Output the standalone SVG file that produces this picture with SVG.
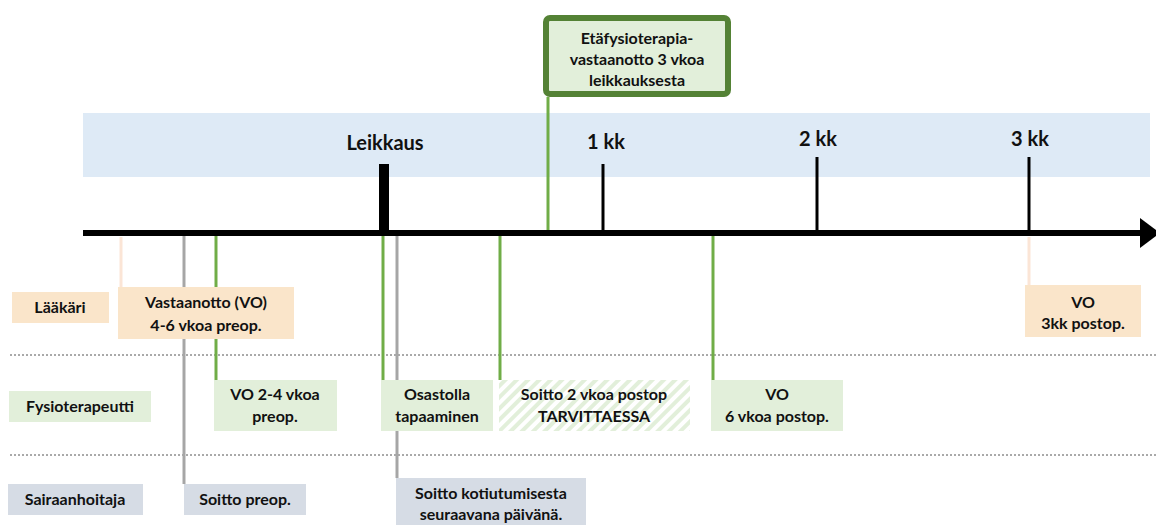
<svg xmlns="http://www.w3.org/2000/svg" width="1156" height="525" viewBox="0 0 1156 525">
<defs>
<style>
text{font-family:Lato,"Open Sans","Liberation Sans",sans-serif;font-weight:bold;fill:#111;text-anchor:middle}
.t{font-size:16px}
.big{font-size:20px}
.peach{fill:#fae5ca}
.green{fill:#e2efda}
.grey{fill:#d6dce5}
.lg{stroke:#70ad47;stroke-width:3}
.lgr{stroke:#a6a6a6;stroke-width:3}
.lp{stroke:#fbe5d6;stroke-width:3}
.tick{stroke:#000;stroke-width:3}
.dot{stroke:#555;stroke-width:1;stroke-dasharray:2 2}
</style>
<pattern id="hatch" width="8" height="8" patternUnits="userSpaceOnUse" patternTransform="rotate(-45)">
<rect width="8" height="8" fill="#ffffff"/>
<rect width="8" height="4" fill="#e2efda"/>
</pattern>
</defs>
<rect width="1156" height="525" fill="#fff"/>
<rect x="83" y="113" width="1067" height="64" fill="#deeaf6"/>
<line class="dot" x1="10" y1="355" x2="1156" y2="355"/>
<line class="dot" x1="10" y1="455" x2="1156" y2="455"/>
<g id="connectors">
<line class="lg" x1="548" y1="97" x2="548" y2="233"/>
<line class="lp" x1="121" y1="237" x2="121" y2="287"/>
<line class="lgr" x1="184" y1="236" x2="184" y2="484"/>
<line class="lg" x1="216" y1="236" x2="216" y2="380"/>
<line class="lg" x1="383" y1="236" x2="383" y2="380"/>
<line class="lgr" x1="397" y1="236" x2="397" y2="478"/>
<line class="lg" x1="500" y1="236" x2="500" y2="380"/>
<line class="lg" x1="713" y1="236" x2="713" y2="380"/>
<line class="lp" x1="1029" y1="237" x2="1029" y2="285"/>
</g>
<g id="axis">
<line class="tick" x1="603" y1="164" x2="603" y2="233"/>
<line class="tick" x1="817" y1="157" x2="817" y2="233"/>
<line class="tick" x1="1029" y1="157" x2="1029" y2="233"/>
<rect x="379" y="164" width="10" height="69" fill="#000"/>
<line x1="83" y1="233" x2="1142" y2="233" stroke="#000" stroke-width="6"/>
<polygon points="1140,218 1160,233 1140,248" fill="#000"/>
<text class="big" x="385" y="150">Leikkaus</text>
<text class="big" x="606" y="149">1 kk</text>
<text class="big" x="818" y="146">2 kk</text>
<text class="big" x="1030" y="146">3 kk</text>
</g>
<g id="etafysio">
<rect x="546" y="18" width="182" height="76" rx="4" fill="#e2efda" stroke="#548235" stroke-width="6"/>
<text class="t" x="637" y="44">Etäfysioterapia-</text>
<text class="t" x="637" y="65">vastaanotto 3 vkoa</text>
<text class="t" x="637" y="86">leikkauksesta</text>
</g>
<g id="laakari">
<rect class="peach" x="12" y="292" width="97" height="31"/>
<text class="t" x="60" y="313">Lääkäri</text>
</g>
<g id="vastaanotto">
<rect class="peach" x="118" y="287" width="176" height="52"/>
<text class="t" x="206" y="308">Vastaanotto (VO)</text>
<text class="t" x="206" y="331">4-6 vkoa preop.</text>
</g>
<g id="vo3kk">
<rect class="peach" x="1025" y="285" width="116" height="52"/>
<text class="t" x="1083" y="308">VO</text>
<text class="t" x="1083" y="329">3kk postop.</text>
</g>
<g id="fysioterapeutti">
<rect class="green" x="9" y="391" width="142" height="31"/>
<text class="t" x="80" y="412">Fysioterapeutti</text>
</g>
<g id="vo24">
<rect class="green" x="214" y="380" width="123" height="51"/>
<text class="t" x="275" y="400">VO 2-4 vkoa</text>
<text class="t" x="275" y="422">preop.</text>
</g>
<g id="osastolla">
<rect class="green" x="381" y="380" width="112" height="51"/>
<text class="t" x="437" y="400">Osastolla</text>
<text class="t" x="437" y="422">tapaaminen</text>
</g>
<g id="soitto2">
<rect x="499" y="380" width="191" height="51" fill="url(#hatch)"/>
<text class="t" x="594" y="400">Soitto 2 vkoa postop</text>
<text class="t" x="594" y="422">TARVITTAESSA</text>
</g>
<g id="vo6">
<rect class="green" x="711" y="380" width="132" height="51"/>
<text class="t" x="777" y="400">VO</text>
<text class="t" x="777" y="422">6 vkoa postop.</text>
</g>
<g id="sairaanhoitaja">
<rect class="grey" x="8" y="484" width="135" height="31"/>
<text class="t" x="75" y="505">Sairaanhoitaja</text>
</g>
<g id="soittopreop">
<rect class="grey" x="184" y="484" width="122" height="31"/>
<text class="t" x="245" y="505">Soitto preop.</text>
</g>
<g id="soittokotiutumisesta">
<rect class="grey" x="396" y="478" width="190" height="47"/>
<text class="t" x="491" y="499">Soitto kotiutumisesta</text>
<text class="t" x="491" y="520">seuraavana päivänä.</text>
</g>
</svg>
